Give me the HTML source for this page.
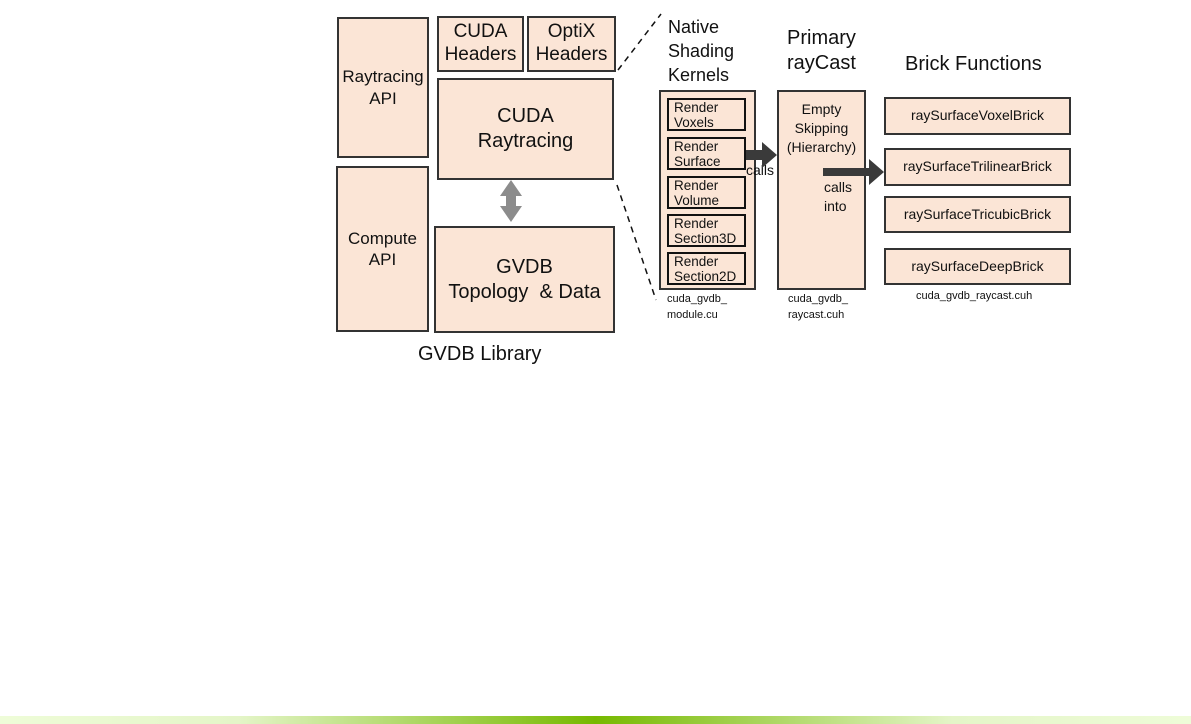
<!DOCTYPE html>
<html><head><style>
body{margin:0;width:1191px;height:724px;background:#fff;position:relative;overflow:hidden;font-family:"Liberation Sans",sans-serif;color:#111}
.b{position:absolute;background:#fbe5d6;border:2px solid #333;box-sizing:border-box;display:flex;align-items:center;justify-content:center;text-align:center;line-height:1.25}
.t{position:absolute;white-space:nowrap}
.in{position:absolute;background:#fbe5d6;border:2px solid #111;box-sizing:border-box;font-size:13.5px;line-height:15px;padding-left:5px;left:667px;width:79px;height:33px}
.br{font-size:14px}
</style></head><body>
<div class="b" style="left:337px;top:17px;width:92px;height:141px;font-size:17px">Raytracing<br>API</div>
<div class="b" style="left:336px;top:166px;width:93px;height:166px;font-size:17px">Compute<br>API</div>
<div class="b" style="left:437px;top:16px;width:87px;height:56px;font-size:19px;line-height:1.2">CUDA<br>Headers</div>
<div class="b" style="left:527px;top:16px;width:89px;height:56px;font-size:19px;line-height:1.2">OptiX<br>Headers</div>
<div class="b" style="left:437px;top:78px;width:177px;height:102px;font-size:20px">CUDA<br>Raytracing</div>
<div class="b" style="left:434px;top:226px;width:181px;height:107px;font-size:20px">GVDB<br>Topology &nbsp;&amp; Data</div>
<div class="t" style="left:418px;top:343px;font-size:20px">GVDB Library</div>
<div class="t" style="left:668px;top:15px;font-size:18px;line-height:24px">Native<br>Shading<br>Kernels</div>
<div class="t" style="left:787px;top:26px;font-size:20px;line-height:25px">Primary<br>rayCast</div>
<div class="t" style="left:905px;top:53px;font-size:20px">Brick Functions</div>
<div class="b" style="left:659px;top:90px;width:97px;height:200px"></div>
<div class="in" style="top:98px">Render<br>Voxels</div>
<div class="in" style="top:137px">Render<br>Surface</div>
<div class="in" style="top:176px">Render<br>Volume</div>
<div class="in" style="top:214px">Render<br>Section3D</div>
<div class="in" style="top:252px">Render<br>Section2D</div>
<div class="b" style="left:777px;top:90px;width:89px;height:200px;align-items:flex-start;padding-top:8px;font-size:14px;line-height:19px">Empty<br>Skipping<br>(Hierarchy)</div>
<div class="t" style="left:746px;top:162px;font-size:14px">calls</div>
<div class="t" style="left:824px;top:178px;font-size:14px;line-height:19px">calls<br>into</div>
<div class="b br" style="left:884px;top:97px;width:187px;height:38px">raySurfaceVoxelBrick</div>
<div class="b br" style="left:884px;top:148px;width:187px;height:38px">raySurfaceTrilinearBrick</div>
<div class="b br" style="left:884px;top:196px;width:187px;height:37px">raySurfaceTricubicBrick</div>
<div class="b br" style="left:884px;top:248px;width:187px;height:37px">raySurfaceDeepBrick</div>
<div class="t" style="left:667px;top:291px;font-size:11px;line-height:16px">cuda_gvdb_<br>module.cu</div>
<div class="t" style="left:788px;top:291px;font-size:11px;line-height:16px">cuda_gvdb_<br>raycast.cuh</div>
<div class="t" style="left:916px;top:290px;font-size:11px">cuda_gvdb_raycast.cuh</div>
<svg style="position:absolute;left:0;top:0;z-index:5" width="1191" height="724">
<polygon points="511,180 500,196 506,196 506,206 500,206 511,222 522,206 516,206 516,196 522,196" fill="#8c8c8c"/>
<line x1="618" y1="70" x2="661" y2="14" stroke="#111" stroke-width="1.5" stroke-dasharray="6,5"/>
<line x1="617" y1="185" x2="656" y2="300" stroke="#111" stroke-width="1.5" stroke-dasharray="6,5"/>
<polygon points="746,150 762,150 762,142 777,155 762,168 762,160 746,160" fill="#3a3a3a"/>
<polygon points="823,168 869,168 869,159 884,172 869,185 869,176 823,176" fill="#3a3a3a"/>
</svg>
<div style="position:absolute;left:0;top:716px;width:1191px;height:8px;background:linear-gradient(to right,#eefcd8,#e4f5c8 20%,#76b900 50%,#e4f5c8 80%,#eefcd8)"></div>
</body></html>
